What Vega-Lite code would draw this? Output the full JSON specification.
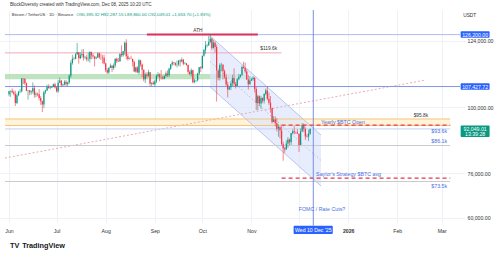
{
"$schema":"https://vega.github.io/schema/vega-lite/v6.json",
"width":465,"height":212,
"autosize":{"type":"none"},
"padding":{"left":0,"top":10,"right":35,"bottom":36},
"background":"#ffffff",
"config":{"view":{"stroke":null},"font":"Liberation Sans","axis":{"labelFont":"Liberation Sans"}},
"layer":[
{"data":{"values":[{"d":"2025-05-29T11:00:00Z","e":"2025-10-29T00:00:00Z","p":110050,"q":111950}]},
 "mark":{"type":"rect","color":"#b4deb6","opacity":0.85},
 "encoding":{
  "x":{"field":"d","type":"temporal","title":null,"scale":{"type":"utc","domain":[{"year":2025,"month":5,"date":29,"hours":11,"utc":true},{"year":2026,"month":3,"date":12,"hours":14,"utc":true}]},
   "axis":{"title":null,"orient":"bottom","values":[{"year":2025,"month":6,"date":1,"utc":true},{"year":2025,"month":7,"date":1,"utc":true},{"year":2025,"month":8,"date":1,"utc":true},{"year":2025,"month":9,"date":1,"utc":true},{"year":2025,"month":10,"date":1,"utc":true},{"year":2025,"month":11,"date":1,"utc":true},{"year":2025,"month":12,"date":1,"utc":true},{"year":2026,"month":1,"date":1,"utc":true},{"year":2026,"month":2,"date":1,"utc":true},{"year":2026,"month":3,"date":1,"utc":true}],
    "labelExpr":"utcmonth(datum.value)==0 ? utcFormat(datum.value,'%Y') : (utcmonth(datum.value)==11 ? '' : utcFormat(datum.value,'%b'))",
    "grid":true,"gridColor":"#eef1f6","domain":false,"ticks":false,"labelFontSize":5.2,"labelColor":"#333333","labelPadding":6,"labelFlush":false,"labelOverlap":false,
    "labelFontWeight":{"condition":{"test":"utcmonth(datum.value)==0","value":"bold"},"value":"normal"}}},
  "x2":{"field":"e"},
  "y":{"field":"p","type":"quantitative","title":null,"scale":{"domain":[58454,135099],"nice":false,"zero":false},
   "axis":{"title":null,"orient":"right","values":[60000,68000,76000,84000,100000,116000,124000],"format":",.2f","grid":true,"gridColor":"#eef1f6","domain":false,"ticks":false,"labelFontSize":5.2,"labelColor":"#333333","labelPadding":2,"labelAlign":"left","labelOverlap":false,"labelFlush":false}},
  "y2":{"field":"q"}}},
{"data":{"values":[{"d":"2025-05-29T11:00:00Z","e":"2026-03-06T10:00:00Z","p":93350,"q":95700}]},
 "mark":{"type":"rect","color":"#fff3d9"},
 "encoding":{
  "x":{"field":"d","type":"temporal","title":null,"scale":{"type":"utc","domain":[{"year":2025,"month":5,"date":29,"hours":11,"utc":true},{"year":2026,"month":3,"date":12,"hours":14,"utc":true}]}},
  "x2":{"field":"e"},
  "y":{"field":"p","type":"quantitative","title":null,"scale":{"domain":[58454,135099],"nice":false,"zero":false}},
  "y2":{"field":"q"}}},
{"data":{"values":[{"d":"2025-10-05T22:00:00Z","p":125700,"q":107260},{"d":"2025-12-14T21:00:00Z","p":89900,"q":71470}]},
 "mark":{"type":"area","color":"#dde5fb","opacity":0.7},
 "encoding":{
  "x":{"field":"d","type":"temporal","title":null,"scale":{"type":"utc","domain":[{"year":2025,"month":5,"date":29,"hours":11,"utc":true},{"year":2026,"month":3,"date":12,"hours":14,"utc":true}]}},
  "y":{"field":"p","type":"quantitative","title":null,"scale":{"domain":[58454,135099],"nice":false,"zero":false}},
  "y2":{"field":"q"}}},
{"data":{"values":[{"d":"2025-10-05T22:00:00Z","p":125700,"q":107260},{"d":"2025-12-14T21:00:00Z","p":89900,"q":71470}]},
 "mark":{"type":"line","color":"#a9b8ee","strokeWidth":0.8},
 "encoding":{
  "x":{"field":"d","type":"temporal","title":null,"scale":{"type":"utc","domain":[{"year":2025,"month":5,"date":29,"hours":11,"utc":true},{"year":2026,"month":3,"date":12,"hours":14,"utc":true}]}},
  "y":{"field":"p","type":"quantitative","title":null,"scale":{"domain":[58454,135099],"nice":false,"zero":false}}}},
{"data":{"values":[{"d":"2025-10-05T22:00:00Z","p":125700,"q":107260},{"d":"2025-12-14T21:00:00Z","p":89900,"q":71470}]},
 "mark":{"type":"line","color":"#a9b8ee","strokeWidth":0.8},
 "encoding":{
  "x":{"field":"d","type":"temporal","title":null,"scale":{"type":"utc","domain":[{"year":2025,"month":5,"date":29,"hours":11,"utc":true},{"year":2026,"month":3,"date":12,"hours":14,"utc":true}]}},
  "y":{"field":"q","type":"quantitative","title":null,"scale":{"domain":[58454,135099],"nice":false,"zero":false}}}},
{"data":{"values":[{"d":"2025-10-05T22:00:00Z","p":116480},{"d":"2025-12-14T21:00:00Z","p":80690}]},
 "mark":{"type":"line","color":"#9a9fae","strokeWidth":0.8,"strokeDash":[1,2.5]},
 "encoding":{
  "x":{"field":"d","type":"temporal","title":null,"scale":{"type":"utc","domain":[{"year":2025,"month":5,"date":29,"hours":11,"utc":true},{"year":2026,"month":3,"date":12,"hours":14,"utc":true}]}},
  "y":{"field":"p","type":"quantitative","title":null,"scale":{"domain":[58454,135099],"nice":false,"zero":false}}}},
{"data":{"values":[{"d":"2025-05-29T11:00:00Z","p":81590},{"d":"2026-02-19T00:00:00Z","p":109790}]},
 "mark":{"type":"line","color":"#e9a0ad","strokeWidth":0.9,"strokeDash":[2,2]},
 "encoding":{
  "x":{"field":"d","type":"temporal","title":null,"scale":{"type":"utc","domain":[{"year":2025,"month":5,"date":29,"hours":11,"utc":true},{"year":2026,"month":3,"date":12,"hours":14,"utc":true}]}},
  "y":{"field":"p","type":"quantitative","title":null,"scale":{"domain":[58454,135099],"nice":false,"zero":false}}}},
{"data":{"values":[
  {"line":"top","d":"2025-05-29T11:00:00Z","e":"2026-03-12T14:00:00Z","p":126200},
  {"line":"mid","d":"2025-05-29T11:00:00Z","e":"2026-03-12T14:00:00Z","p":107427.72},
  {"line":"r119","d":"2025-05-29T11:00:00Z","e":"2025-11-20T00:00:00Z","p":119600},
  {"line":"cur","d":"2025-05-29T11:00:00Z","e":"2026-03-06T10:00:00Z","p":92100},
  {"line":"s86","d":"2025-05-29T11:00:00Z","e":"2026-03-06T10:00:00Z","p":86100},
  {"line":"s73","d":"2025-05-29T11:00:00Z","e":"2026-03-06T10:00:00Z","p":73100},
  {"line":"band","d":"2025-05-29T11:00:00Z","e":"2026-03-06T10:00:00Z","p":93350},
  {"line":"band","d":"2025-05-29T11:00:00Z","e":"2026-03-06T10:00:00Z","p":95700}]},
 "mark":{"type":"rule","strokeWidth":1},
 "encoding":{
  "x":{"field":"d","type":"temporal","title":null,"scale":{"type":"utc","domain":[{"year":2025,"month":5,"date":29,"hours":11,"utc":true},{"year":2026,"month":3,"date":12,"hours":14,"utc":true}]}},
  "x2":{"field":"e"},
  "y":{"field":"p","type":"quantitative","title":null,"scale":{"domain":[58454,135099],"nice":false,"zero":false}},
  "color":{"field":"line","type":"nominal","legend":null,"scale":{"domain":["top","mid","r119","cur","s86","s73","band"],"range":["#aebbef","#8596e4","#f2a9b5","#c3d0f0","#c9cbd3","#c9cbd3","#f5c47c"]}}}},
{"data":{"values":[{"d":"2025-08-27T00:00:00Z","e":"2025-11-05T00:00:00Z","p":126250}]},
 "mark":{"type":"rule","strokeWidth":2,"color":"#dc2f5c"},
 "encoding":{
  "x":{"field":"d","type":"temporal","title":null,"scale":{"type":"utc","domain":[{"year":2025,"month":5,"date":29,"hours":11,"utc":true},{"year":2026,"month":3,"date":12,"hours":14,"utc":true}]}},
  "x2":{"field":"e"},
  "y":{"field":"p","type":"quantitative","title":null,"scale":{"domain":[58454,135099],"nice":false,"zero":false}}}},
{"data":{"values":[{"d":"2025-11-20T00:00:00Z","e":"2026-03-06T10:00:00Z","p":93450},{"d":"2025-11-20T00:00:00Z","e":"2026-03-06T10:00:00Z","p":74300}]},
 "mark":{"type":"rule","strokeWidth":1.2,"color":"#e6394f","strokeDash":[4,3]},
 "encoding":{
  "x":{"field":"d","type":"temporal","title":null,"scale":{"type":"utc","domain":[{"year":2025,"month":5,"date":29,"hours":11,"utc":true},{"year":2026,"month":3,"date":12,"hours":14,"utc":true}]}},
  "x2":{"field":"e"},
  "y":{"field":"p","type":"quantitative","title":null,"scale":{"domain":[58454,135099],"nice":false,"zero":false}}}},
{"data":{"values":[{"d":"2025-12-10T00:00:00Z","p":135099,"q":57115}]},
 "mark":{"type":"rule","strokeWidth":0.9,"color":"#6d82df"},
 "encoding":{
  "x":{"field":"d","type":"temporal","title":null,"scale":{"type":"utc","domain":[{"year":2025,"month":5,"date":29,"hours":11,"utc":true},{"year":2026,"month":3,"date":12,"hours":14,"utc":true}]}},
  "y":{"field":"p","type":"quantitative","title":null,"scale":{"domain":[58454,135099],"nice":false,"zero":false}},
  "y2":{"field":"q"}}},
{"data":{"name":"candles","values":[
{"d":"2025-06-01","o":104600,"h":105900,"l":103900,"c":105700},
{"d":"2025-06-02","o":105700,"h":105900,"l":103700,"c":105900},
{"d":"2025-06-03","o":105900,"h":106800,"l":105000,"c":105400},
{"d":"2025-06-04","o":105400,"h":106000,"l":104200,"c":104700},
{"d":"2025-06-05","o":104700,"h":105900,"l":100400,"c":101500},
{"d":"2025-06-06","o":101500,"h":105000,"l":101100,"c":104300},
{"d":"2025-06-07","o":104300,"h":105900,"l":103900,"c":105600},
{"d":"2025-06-08","o":105600,"h":106500,"l":105100,"c":105700},
{"d":"2025-06-09","o":105700,"h":110500,"l":105300,"c":110300},
{"d":"2025-06-10","o":110300,"h":110400,"l":108300,"c":110200},
{"d":"2025-06-11","o":110200,"h":110400,"l":108000,"c":108600},
{"d":"2025-06-12","o":108600,"h":108900,"l":105700,"c":105900},
{"d":"2025-06-13","o":105900,"h":106200,"l":102700,"c":106000},
{"d":"2025-06-14","o":106000,"h":106200,"l":104300,"c":105400},
{"d":"2025-06-15","o":105400,"h":106100,"l":104500,"c":105600},
{"d":"2025-06-16","o":105600,"h":108900,"l":104900,"c":106800},
{"d":"2025-06-17","o":106800,"h":107800,"l":103400,"c":104500},
{"d":"2025-06-18","o":104500,"h":105600,"l":103500,"c":104800},
{"d":"2025-06-19","o":104800,"h":105200,"l":103900,"c":104600},
{"d":"2025-06-20","o":104600,"h":106500,"l":102400,"c":103300},
{"d":"2025-06-21","o":103300,"h":104000,"l":100800,"c":102100},
{"d":"2025-06-22","o":102100,"h":102400,"l":98200,"c":100900},
{"d":"2025-06-23","o":100900,"h":105900,"l":99600,"c":105400},
{"d":"2025-06-24","o":105400,"h":106300,"l":104700,"c":106000},
{"d":"2025-06-25","o":106000,"h":108100,"l":105800,"c":107300},
{"d":"2025-06-26","o":107300,"h":108300,"l":106600,"c":106900},
{"d":"2025-06-27","o":106900,"h":107700,"l":106400,"c":107100},
{"d":"2025-06-28","o":107100,"h":107600,"l":106900,"c":107300},
{"d":"2025-06-29","o":107300,"h":108500,"l":107200,"c":108300},
{"d":"2025-06-30","o":108300,"h":108800,"l":106700,"c":107100},
{"d":"2025-07-01","o":107100,"h":107500,"l":105300,"c":105700},
{"d":"2025-07-02","o":105700,"h":109800,"l":105100,"c":108800},
{"d":"2025-07-03","o":108800,"h":110600,"l":108600,"c":109600},
{"d":"2025-07-04","o":109600,"h":109700,"l":107300,"c":107900},
{"d":"2025-07-05","o":107900,"h":108500,"l":107600,"c":108200},
{"d":"2025-07-06","o":108200,"h":109700,"l":107800,"c":109200},
{"d":"2025-07-07","o":109200,"h":109800,"l":107500,"c":108300},
{"d":"2025-07-08","o":108300,"h":109200,"l":107500,"c":108900},
{"d":"2025-07-09","o":108900,"h":111900,"l":108400,"c":111300},
{"d":"2025-07-10","o":111300,"h":116900,"l":110600,"c":115900},
{"d":"2025-07-11","o":115900,"h":118900,"l":115300,"c":117500},
{"d":"2025-07-12","o":117500,"h":118200,"l":116900,"c":117400},
{"d":"2025-07-13","o":117400,"h":119500,"l":117300,"c":119100},
{"d":"2025-07-14","o":119100,"h":123200,"l":118900,"c":119800},
{"d":"2025-07-15","o":119800,"h":119900,"l":115700,"c":117700},
{"d":"2025-07-16","o":117700,"h":119800,"l":117300,"c":118700},
{"d":"2025-07-17","o":118700,"h":120900,"l":117800,"c":119200},
{"d":"2025-07-18","o":119200,"h":120900,"l":116800,"c":117900},
{"d":"2025-07-19","o":117900,"h":118500,"l":117300,"c":118000},
{"d":"2025-07-20","o":118000,"h":118900,"l":116500,"c":117300},
{"d":"2025-07-21","o":117300,"h":119700,"l":116500,"c":117400},
{"d":"2025-07-22","o":117400,"h":120200,"l":116100,"c":119900},
{"d":"2025-07-23","o":119900,"h":120000,"l":117300,"c":118700},
{"d":"2025-07-24","o":118700,"h":119500,"l":117500,"c":118300},
{"d":"2025-07-25","o":118300,"h":118500,"l":114700,"c":117600},
{"d":"2025-07-26","o":117600,"h":118300,"l":117300,"c":117900},
{"d":"2025-07-27","o":117900,"h":119800,"l":117800,"c":119400},
{"d":"2025-07-28","o":119400,"h":119800,"l":117400,"c":118000},
{"d":"2025-07-29","o":118000,"h":119300,"l":117000,"c":117900},
{"d":"2025-07-30","o":117900,"h":118800,"l":115800,"c":117800},
{"d":"2025-07-31","o":117800,"h":118900,"l":115500,"c":115800},
{"d":"2025-08-01","o":115800,"h":116100,"l":112700,"c":113300},
{"d":"2025-08-02","o":113300,"h":114000,"l":112000,"c":112500},
{"d":"2025-08-03","o":112500,"h":114400,"l":112000,"c":114200},
{"d":"2025-08-04","o":114200,"h":115700,"l":114100,"c":115000},
{"d":"2025-08-05","o":115000,"h":115100,"l":112700,"c":114100},
{"d":"2025-08-06","o":114100,"h":115800,"l":113400,"c":115000},
{"d":"2025-08-07","o":115000,"h":117600,"l":114300,"c":117500},
{"d":"2025-08-08","o":117500,"h":117900,"l":115900,"c":116600},
{"d":"2025-08-09","o":116600,"h":117700,"l":116300,"c":116500},
{"d":"2025-08-10","o":116500,"h":119300,"l":116500,"c":119300},
{"d":"2025-08-11","o":119300,"h":122300,"l":118100,"c":118700},
{"d":"2025-08-12","o":118700,"h":120300,"l":118200,"c":120200},
{"d":"2025-08-13","o":120200,"h":123700,"l":118900,"c":123300},
{"d":"2025-08-14","o":123300,"h":124500,"l":117200,"c":118400},
{"d":"2025-08-15","o":118400,"h":119200,"l":116800,"c":117400},
{"d":"2025-08-16","o":117400,"h":117900,"l":117200,"c":117500},
{"d":"2025-08-17","o":117500,"h":118600,"l":117300,"c":117400},
{"d":"2025-08-18","o":117400,"h":117600,"l":114700,"c":116300},
{"d":"2025-08-19","o":116300,"h":116800,"l":112700,"c":112900},
{"d":"2025-08-20","o":112900,"h":114600,"l":112400,"c":114300},
{"d":"2025-08-21","o":114300,"h":114800,"l":112400,"c":112500},
{"d":"2025-08-22","o":112500,"h":117400,"l":111700,"c":116900},
{"d":"2025-08-23","o":116900,"h":117000,"l":114600,"c":115400},
{"d":"2025-08-24","o":115400,"h":115700,"l":110800,"c":113500},
{"d":"2025-08-25","o":113500,"h":113600,"l":109300,"c":110100},
{"d":"2025-08-26","o":110100,"h":112400,"l":108700,"c":111800},
{"d":"2025-08-27","o":111800,"h":112600,"l":110400,"c":111300},
{"d":"2025-08-28","o":111300,"h":113500,"l":110900,"c":112600},
{"d":"2025-08-29","o":112600,"h":112700,"l":107500,"c":108400},
{"d":"2025-08-30","o":108400,"h":108900,"l":107400,"c":108800},
{"d":"2025-08-31","o":108800,"h":109500,"l":108100,"c":108300},
{"d":"2025-09-01","o":108300,"h":109900,"l":107300,"c":109300},
{"d":"2025-09-02","o":109300,"h":111800,"l":108600,"c":111300},
{"d":"2025-09-03","o":111300,"h":112600,"l":110600,"c":111800},
{"d":"2025-09-04","o":111800,"h":112200,"l":109300,"c":110800},
{"d":"2025-09-05","o":110800,"h":113400,"l":110000,"c":110700},
{"d":"2025-09-06","o":110700,"h":111300,"l":110000,"c":110200},
{"d":"2025-09-07","o":110200,"h":111500,"l":110000,"c":111200},
{"d":"2025-09-08","o":111200,"h":112900,"l":110600,"c":112100},
{"d":"2025-09-09","o":112100,"h":113300,"l":110900,"c":111500},
{"d":"2025-09-10","o":111500,"h":114300,"l":110900,"c":113900},
{"d":"2025-09-11","o":113900,"h":115600,"l":113400,"c":115500},
{"d":"2025-09-12","o":115500,"h":116700,"l":114800,"c":116100},
{"d":"2025-09-13","o":116100,"h":116300,"l":115200,"c":115900},
{"d":"2025-09-14","o":115900,"h":116200,"l":114800,"c":115300},
{"d":"2025-09-15","o":115300,"h":116800,"l":114400,"c":115400},
{"d":"2025-09-16","o":115400,"h":117000,"l":114800,"c":116800},
{"d":"2025-09-17","o":116800,"h":117300,"l":114700,"c":116500},
{"d":"2025-09-18","o":116500,"h":117900,"l":116200,"c":117100},
{"d":"2025-09-19","o":117100,"h":117400,"l":115100,"c":115700},
{"d":"2025-09-20","o":115700,"h":116300,"l":115400,"c":115800},
{"d":"2025-09-21","o":115800,"h":115900,"l":115000,"c":115200},
{"d":"2025-09-22","o":115200,"h":115400,"l":111900,"c":112700},
{"d":"2025-09-23","o":112700,"h":113300,"l":111500,"c":112000},
{"d":"2025-09-24","o":112000,"h":114000,"l":111100,"c":113300},
{"d":"2025-09-25","o":113300,"h":113500,"l":108600,"c":109000},
{"d":"2025-09-26","o":109000,"h":110300,"l":108600,"c":109600},
{"d":"2025-09-27","o":109600,"h":109800,"l":109100,"c":109700},
{"d":"2025-09-28","o":109700,"h":112400,"l":109300,"c":112100},
{"d":"2025-09-29","o":112100,"h":114500,"l":111600,"c":114400},
{"d":"2025-09-30","o":114400,"h":114800,"l":112700,"c":114000},
{"d":"2025-10-01","o":114000,"h":118600,"l":113900,"c":118600},
{"d":"2025-10-02","o":118600,"h":121000,"l":118200,"c":120600},
{"d":"2025-10-03","o":120600,"h":123900,"l":119300,"c":122300},
{"d":"2025-10-04","o":122300,"h":122900,"l":121600,"c":122400},
{"d":"2025-10-05","o":122400,"h":125700,"l":122100,"c":123500},
{"d":"2025-10-06","o":123500,"h":126200,"l":123100,"c":124700},
{"d":"2025-10-07","o":124700,"h":125100,"l":120600,"c":121400},
{"d":"2025-10-08","o":121400,"h":124200,"l":121100,"c":123300},
{"d":"2025-10-09","o":123300,"h":123800,"l":119700,"c":121700},
{"d":"2025-10-10","o":121700,"h":122600,"l":102000,"c":113200},
{"d":"2025-10-11","o":113200,"h":113500,"l":109700,"c":110600},
{"d":"2025-10-12","o":110600,"h":115800,"l":109600,"c":115200},
{"d":"2025-10-13","o":115200,"h":116000,"l":113000,"c":115300},
{"d":"2025-10-14","o":115300,"h":115500,"l":110000,"c":113000},
{"d":"2025-10-15","o":113000,"h":113600,"l":110200,"c":110800},
{"d":"2025-10-16","o":110800,"h":111900,"l":107500,"c":108200},
{"d":"2025-10-17","o":108200,"h":109200,"l":103500,"c":106400},
{"d":"2025-10-18","o":106400,"h":107500,"l":106300,"c":107200},
{"d":"2025-10-19","o":107200,"h":109400,"l":106100,"c":108600},
{"d":"2025-10-20","o":108600,"h":111700,"l":107500,"c":110500},
{"d":"2025-10-21","o":110500,"h":114000,"l":107500,"c":108400},
{"d":"2025-10-22","o":108400,"h":109100,"l":106700,"c":107600},
{"d":"2025-10-23","o":107600,"h":110500,"l":107400,"c":110100},
{"d":"2025-10-24","o":110100,"h":112000,"l":109700,"c":111000},
{"d":"2025-10-25","o":111000,"h":111900,"l":110600,"c":111600},
{"d":"2025-10-26","o":111600,"h":115000,"l":111200,"c":114500},
{"d":"2025-10-27","o":114500,"h":116400,"l":113900,"c":114100},
{"d":"2025-10-28","o":114100,"h":116100,"l":112200,"c":112900},
{"d":"2025-10-29","o":112900,"h":113600,"l":109800,"c":110000},
{"d":"2025-10-30","o":110000,"h":111600,"l":106300,"c":108300},
{"d":"2025-10-31","o":108300,"h":111200,"l":108100,"c":109600},
{"d":"2025-11-01","o":109600,"h":110600,"l":109400,"c":110100},
{"d":"2025-11-02","o":110100,"h":111200,"l":109500,"c":110600},
{"d":"2025-11-03","o":110600,"h":110800,"l":105300,"c":106500},
{"d":"2025-11-04","o":106500,"h":107300,"l":98900,"c":101500},
{"d":"2025-11-05","o":101500,"h":104500,"l":98900,"c":103900},
{"d":"2025-11-06","o":103900,"h":104200,"l":100300,"c":101300},
{"d":"2025-11-07","o":101300,"h":104100,"l":99300,"c":103300},
{"d":"2025-11-08","o":103300,"h":103500,"l":101400,"c":102300},
{"d":"2025-11-09","o":102300,"h":105000,"l":101300,"c":104700},
{"d":"2025-11-10","o":104700,"h":106700,"l":104300,"c":106000},
{"d":"2025-11-11","o":106000,"h":107500,"l":102500,"c":103000},
{"d":"2025-11-12","o":103000,"h":105300,"l":100800,"c":101600},
{"d":"2025-11-13","o":101600,"h":104000,"l":98000,"c":99700},
{"d":"2025-11-14","o":99700,"h":99800,"l":94000,"c":94600},
{"d":"2025-11-15","o":94600,"h":96800,"l":94600,"c":95500},
{"d":"2025-11-16","o":95500,"h":96600,"l":93000,"c":94200},
{"d":"2025-11-17","o":94200,"h":96000,"l":91200,"c":92200},
{"d":"2025-11-18","o":92200,"h":93800,"l":89300,"c":92900},
{"d":"2025-11-19","o":92900,"h":92900,"l":88600,"c":91500},
{"d":"2025-11-20","o":91500,"h":93200,"l":86100,"c":86600},
{"d":"2025-11-21","o":86600,"h":87500,"l":80600,"c":85100},
{"d":"2025-11-22","o":85100,"h":85600,"l":83500,"c":84700},
{"d":"2025-11-23","o":84700,"h":88000,"l":84700,"c":86800},
{"d":"2025-11-24","o":86800,"h":89200,"l":85300,"c":88300},
{"d":"2025-11-25","o":88300,"h":88600,"l":86100,"c":87300},
{"d":"2025-11-26","o":87300,"h":90700,"l":86300,"c":90500},
{"d":"2025-11-27","o":90500,"h":91900,"l":90100,"c":91300},
{"d":"2025-11-28","o":91300,"h":93100,"l":90200,"c":90900},
{"d":"2025-11-29","o":90900,"h":91200,"l":90300,"c":90800},
{"d":"2025-11-30","o":90800,"h":92000,"l":90300,"c":90400},
{"d":"2025-12-01","o":90400,"h":90400,"l":83800,"c":86300},
{"d":"2025-12-02","o":86300,"h":92300,"l":86200,"c":91300},
{"d":"2025-12-03","o":91300,"h":94200,"l":91000,"c":93500},
{"d":"2025-12-04","o":93500,"h":94100,"l":90900,"c":92100},
{"d":"2025-12-05","o":92100,"h":92700,"l":88100,"c":89400},
{"d":"2025-12-06","o":89400,"h":90300,"l":88900,"c":89300},
{"d":"2025-12-07","o":89300,"h":91800,"l":87700,"c":90400},
{"d":"2025-12-08","o":90395.32,"h":92287.15,"l":89860,"c":92049.01}
]},
 "layer":[
  {"mark":{"type":"rule","strokeWidth":0.6},
   "encoding":{
    "x":{"field":"d","type":"temporal","title":null,"scale":{"type":"utc","domain":[{"year":2025,"month":5,"date":29,"hours":11,"utc":true},{"year":2026,"month":3,"date":12,"hours":14,"utc":true}]}},
    "y":{"field":"l","type":"quantitative","title":null,"scale":{"domain":[58454,135099],"nice":false,"zero":false}},
    "y2":{"field":"h"},
    "color":{"condition":{"test":"datum.c >= datum.o","value":"#089981"},"value":"#f23645"}}},
  {"mark":{"type":"bar","size":1.2},
   "encoding":{
    "x":{"field":"d","type":"temporal","title":null,"scale":{"type":"utc","domain":[{"year":2025,"month":5,"date":29,"hours":11,"utc":true},{"year":2026,"month":3,"date":12,"hours":14,"utc":true}]}},
    "y":{"field":"o","type":"quantitative","title":null,"scale":{"domain":[58454,135099],"nice":false,"zero":false}},
    "y2":{"field":"c"},
    "color":{"condition":{"test":"datum.c >= datum.o","value":"#089981"},"value":"#f23645"}}}
 ]},
{"data":{"values":[
  {"t":"ATH","d":"2025-09-28T05:00:00Z","p":127615},
  {"t":"$95.8k","d":"2026-02-15T21:00:00Z","p":96780}]},
 "mark":{"type":"text","align":"center","baseline":"middle","fontSize":4.8,"color":"#333333"},
 "encoding":{
  "x":{"field":"d","type":"temporal","title":null,"scale":{"type":"utc","domain":[{"year":2025,"month":5,"date":29,"hours":11,"utc":true},{"year":2026,"month":3,"date":12,"hours":14,"utc":true}]}},
  "y":{"field":"p","type":"quantitative","title":null,"scale":{"domain":[58454,135099],"nice":false,"zero":false}},
  "text":{"field":"t"}}},
{"data":{"values":[{"t":"$119.6k","d":"2025-11-06T14:00:00Z","p":121000}]},
 "mark":{"type":"text","align":"left","baseline":"middle","fontSize":4.8,"color":"#333333"},
 "encoding":{
  "x":{"field":"d","type":"temporal","title":null,"scale":{"type":"utc","domain":[{"year":2025,"month":5,"date":29,"hours":11,"utc":true},{"year":2026,"month":3,"date":12,"hours":14,"utc":true}]}},
  "y":{"field":"p","type":"quantitative","title":null,"scale":{"domain":[58454,135099],"nice":false,"zero":false}},
  "text":{"field":"t"}}},
{"data":{"values":[
  {"t":"Yearly $BTC Open","d":"2025-12-14T21:00:00Z","p":94610},
  {"t":"Saylor's Strategy $BTC avg","d":"2025-12-11T19:00:00Z","p":75915}]},
 "mark":{"type":"text","align":"left","baseline":"middle","fontSize":5.3,"color":"#4a6fe0"},
 "encoding":{
  "x":{"field":"d","type":"temporal","title":null,"scale":{"type":"utc","domain":[{"year":2025,"month":5,"date":29,"hours":11,"utc":true},{"year":2026,"month":3,"date":12,"hours":14,"utc":true}]}},
  "y":{"field":"p","type":"quantitative","title":null,"scale":{"domain":[58454,135099],"nice":false,"zero":false}},
  "text":{"field":"t"}}},
{"data":{"values":[
  {"t":"$93.6k","d":"2026-03-04T12:00:00Z","p":91460},
  {"t":"$86.1k","d":"2026-03-04T12:00:00Z","p":87560},
  {"t":"$73.5k","d":"2026-03-04T12:00:00Z","p":71580}]},
 "mark":{"type":"text","align":"right","baseline":"middle","fontSize":5.3,"color":"#4a6fe0"},
 "encoding":{
  "x":{"field":"d","type":"temporal","title":null,"scale":{"type":"utc","domain":[{"year":2025,"month":5,"date":29,"hours":11,"utc":true},{"year":2026,"month":3,"date":12,"hours":14,"utc":true}]}},
  "y":{"field":"p","type":"quantitative","title":null,"scale":{"domain":[58454,135099],"nice":false,"zero":false}},
  "text":{"field":"t"}}},
{"data":{"values":[{"t":"FOMC / Rate Cuts?","d":"2025-12-15T12:00:00Z","p":63150}]},
 "mark":{"type":"text","align":"center","baseline":"middle","fontSize":5.3,"color":"#4a6fe0"},
 "encoding":{
  "x":{"field":"d","type":"temporal","title":null,"scale":{"type":"utc","domain":[{"year":2025,"month":5,"date":29,"hours":11,"utc":true},{"year":2026,"month":3,"date":12,"hours":14,"utc":true}]}},
  "y":{"field":"p","type":"quantitative","title":null,"scale":{"domain":[58454,135099],"nice":false,"zero":false}},
  "text":{"field":"t"}}},
{"data":{"values":[
  {"box":"blue","d":"2026-03-13T00:00:00Z","e":"2026-03-31T06:00:00Z","p":125025,"q":127375},
  {"box":"blue","d":"2026-03-13T00:00:00Z","e":"2026-03-31T06:00:00Z","p":106250,"q":108600},
  {"box":"green","d":"2026-03-13T00:00:00Z","e":"2026-03-31T06:00:00Z","p":89185,"q":93340},
  {"box":"blue","d":"2025-11-27T14:00:00Z","e":"2025-12-22T07:00:00Z","p":54114,"q":57115}]},
 "mark":{"type":"rect","cornerRadius":1},
 "encoding":{
  "x":{"field":"d","type":"temporal","title":null,"scale":{"type":"utc","domain":[{"year":2025,"month":5,"date":29,"hours":11,"utc":true},{"year":2026,"month":3,"date":12,"hours":14,"utc":true}]}},
  "x2":{"field":"e"},
  "y":{"field":"p","type":"quantitative","title":null,"scale":{"domain":[58454,135099],"nice":false,"zero":false}},
  "y2":{"field":"q"},
  "color":{"condition":{"test":"datum.box=='green'","value":"#089981"},"value":"#2962ff"}}},
{"data":{"values":[
  {"t":"126,200.00","d":"2026-03-22T03:00:00Z","p":126200},
  {"t":"107,427.72","d":"2026-03-22T03:00:00Z","p":107427.72},
  {"t":"92,049.01","d":"2026-03-22T03:00:00Z","p":92186},
  {"t":"13:39:28","d":"2026-03-22T03:00:00Z","p":90270},
  {"t":"Wed 10 Dec '25","d":"2025-12-10T00:00:00Z","p":55600}]},
 "mark":{"type":"text","align":"center","baseline":"middle","fontSize":5.2,"color":"#ffffff"},
 "encoding":{
  "x":{"field":"d","type":"temporal","title":null,"scale":{"type":"utc","domain":[{"year":2025,"month":5,"date":29,"hours":11,"utc":true},{"year":2026,"month":3,"date":12,"hours":14,"utc":true}]}},
  "y":{"field":"p","type":"quantitative","title":null,"scale":{"domain":[58454,135099],"nice":false,"zero":false}},
  "text":{"field":"t"}}},
{"data":{"values":[
  {"t":"BlockDiversity created with TradingView.com, Dec 08, 2025 10:20 UTC","d":"2025-06-01T14:00:00Z","p":136907}]},
 "mark":{"type":"text","align":"left","baseline":"middle","fontSize":4.5,"color":"#333333"},
 "encoding":{
  "x":{"field":"d","type":"temporal","title":null,"scale":{"type":"utc","domain":[{"year":2025,"month":5,"date":29,"hours":11,"utc":true},{"year":2026,"month":3,"date":12,"hours":14,"utc":true}]}},
  "y":{"field":"p","type":"quantitative","title":null,"scale":{"domain":[58454,135099],"nice":false,"zero":false}},
  "text":{"field":"t"}}},
{"data":{"values":[
  {"t":"Bitcoin / TetherUS · 1D · Binance","d":"2025-06-02T19:00:00Z","p":133291}]},
 "mark":{"type":"text","align":"left","baseline":"middle","fontSize":4.2,"color":"#333333"},
 "encoding":{
  "x":{"field":"d","type":"temporal","title":null,"scale":{"type":"utc","domain":[{"year":2025,"month":5,"date":29,"hours":11,"utc":true},{"year":2026,"month":3,"date":12,"hours":14,"utc":true}]}},
  "y":{"field":"p","type":"quantitative","title":null,"scale":{"domain":[58454,135099],"nice":false,"zero":false}},
  "text":{"field":"t"}}},
{"data":{"values":[
  {"t":"O90,395.32  H92,287.15  L89,860.00  C92,049.01  +1,653.70 (+1.83%)","d":"2025-07-13T14:00:00Z","p":133291}]},
 "mark":{"type":"text","align":"left","baseline":"middle","fontSize":4.4,"color":"#089981"},
 "encoding":{
  "x":{"field":"d","type":"temporal","title":null,"scale":{"type":"utc","domain":[{"year":2025,"month":5,"date":29,"hours":11,"utc":true},{"year":2026,"month":3,"date":12,"hours":14,"utc":true}]}},
  "y":{"field":"p","type":"quantitative","title":null,"scale":{"domain":[58454,135099],"nice":false,"zero":false}},
  "text":{"field":"t"}}},
{"data":{"values":[{"t":"USDT","d":"2026-03-18T17:00:00Z","p":132930}]},
 "mark":{"type":"text","align":"center","baseline":"middle","fontSize":4.8,"color":"#333333"},
 "encoding":{
  "x":{"field":"d","type":"temporal","title":null,"scale":{"type":"utc","domain":[{"year":2025,"month":5,"date":29,"hours":11,"utc":true},{"year":2026,"month":3,"date":12,"hours":14,"utc":true}]}},
  "y":{"field":"p","type":"quantitative","title":null,"scale":{"domain":[58454,135099],"nice":false,"zero":false}},
  "text":{"field":"t"}}},
{"data":{"values":[
  {"t":"TV","d":"2025-06-01T14:00:00Z","p":49777},
  {"t":"TradingView","d":"2025-06-09T07:00:00Z","p":49777}]},
 "mark":{"type":"text","align":"left","baseline":"middle","fontSize":7.3,"fontWeight":"bold","color":"#131722"},
 "encoding":{
  "x":{"field":"d","type":"temporal","title":null,"scale":{"type":"utc","domain":[{"year":2025,"month":5,"date":29,"hours":11,"utc":true},{"year":2026,"month":3,"date":12,"hours":14,"utc":true}]}},
  "y":{"field":"p","type":"quantitative","title":null,"scale":{"domain":[58454,135099],"nice":false,"zero":false}},
  "text":{"field":"t"}}}
]
}
